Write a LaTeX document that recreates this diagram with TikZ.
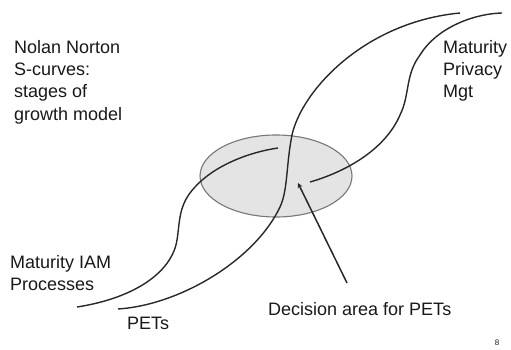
\documentclass[tikz,border=0pt]{standalone}
\usepackage{fontspec}
\setmainfont{Liberation Sans}
\usepackage{tikz}
\usetikzlibrary{arrows.meta,positioning}
\definecolor{curvegray}{RGB}{40,40,40}
\definecolor{textgray}{RGB}{25,25,25}
\definecolor{areafill}{RGB}{228,228,228}
\definecolor{areadraw}{RGB}{120,120,120}

\begin{document}
\begin{tikzpicture}[x=1pt, y=-1pt,
  label/.style={anchor=north west,inner sep=0pt,align=left,text=textgray,font=\fontsize{18}{22.3}\selectfont},
  scurve/.style={draw=curvegray,line width=1.4pt},
  area/.style={draw=areadraw,fill=areafill,line width=1.1pt},
  pointer/.style={draw=curvegray,line width=1.5pt,-{Stealth[length=5pt,width=5pt]}}]

  \useasboundingbox[fill=white] (0,0) rectangle (511,350);

  % decision area
  \draw[area] (276,176) ellipse [x radius=76, y radius=41];

  % S-curves
  \draw[scurve] (77,307) .. controls (135,298) and (172,272) .. (177,240)
    .. controls (180,222) and (178,205) .. (195,187)
    .. controls (215,165) and (250,152) .. (278,148);
  \draw[scurve] (118,309) .. controls (180,305) and (255,260) .. (280,207)
    .. controls (288,190) and (286,165) .. (292,135)
    .. controls (302,90) and (365,22) .. (460,13);
  \draw[scurve] (310,182) .. controls (345,172) and (385,150) .. (400,115)
    .. controls (410,95) and (405,75) .. (420,55)
    .. controls (435,30) and (470,14) .. (502,13);

  % texts
  \node[label] (model) at (14,40) {Nolan Norton\\S-curves:\\stages of\\growth model};
  \node[label] (privacy) at (443,40) {Maturity\\Privacy\\Mgt};
  \node[label] (iam) at (10,255) {Maturity IAM\\Processes};
  \node[label] (pets) at (127,317) {PETs};
  \node[label] (decision) at (268,302) {Decision area for PETs};
  \node[anchor=center,inner sep=0pt,text=textgray,font=\fontsize{8}{9}\selectfont] (page) at (497,343) {8};

  \coordinate (tail) at (347,283);
  \coordinate (tip) at (298,183);
  \draw[pointer] (tail) -- (tip);
\end{tikzpicture}
\end{document}
